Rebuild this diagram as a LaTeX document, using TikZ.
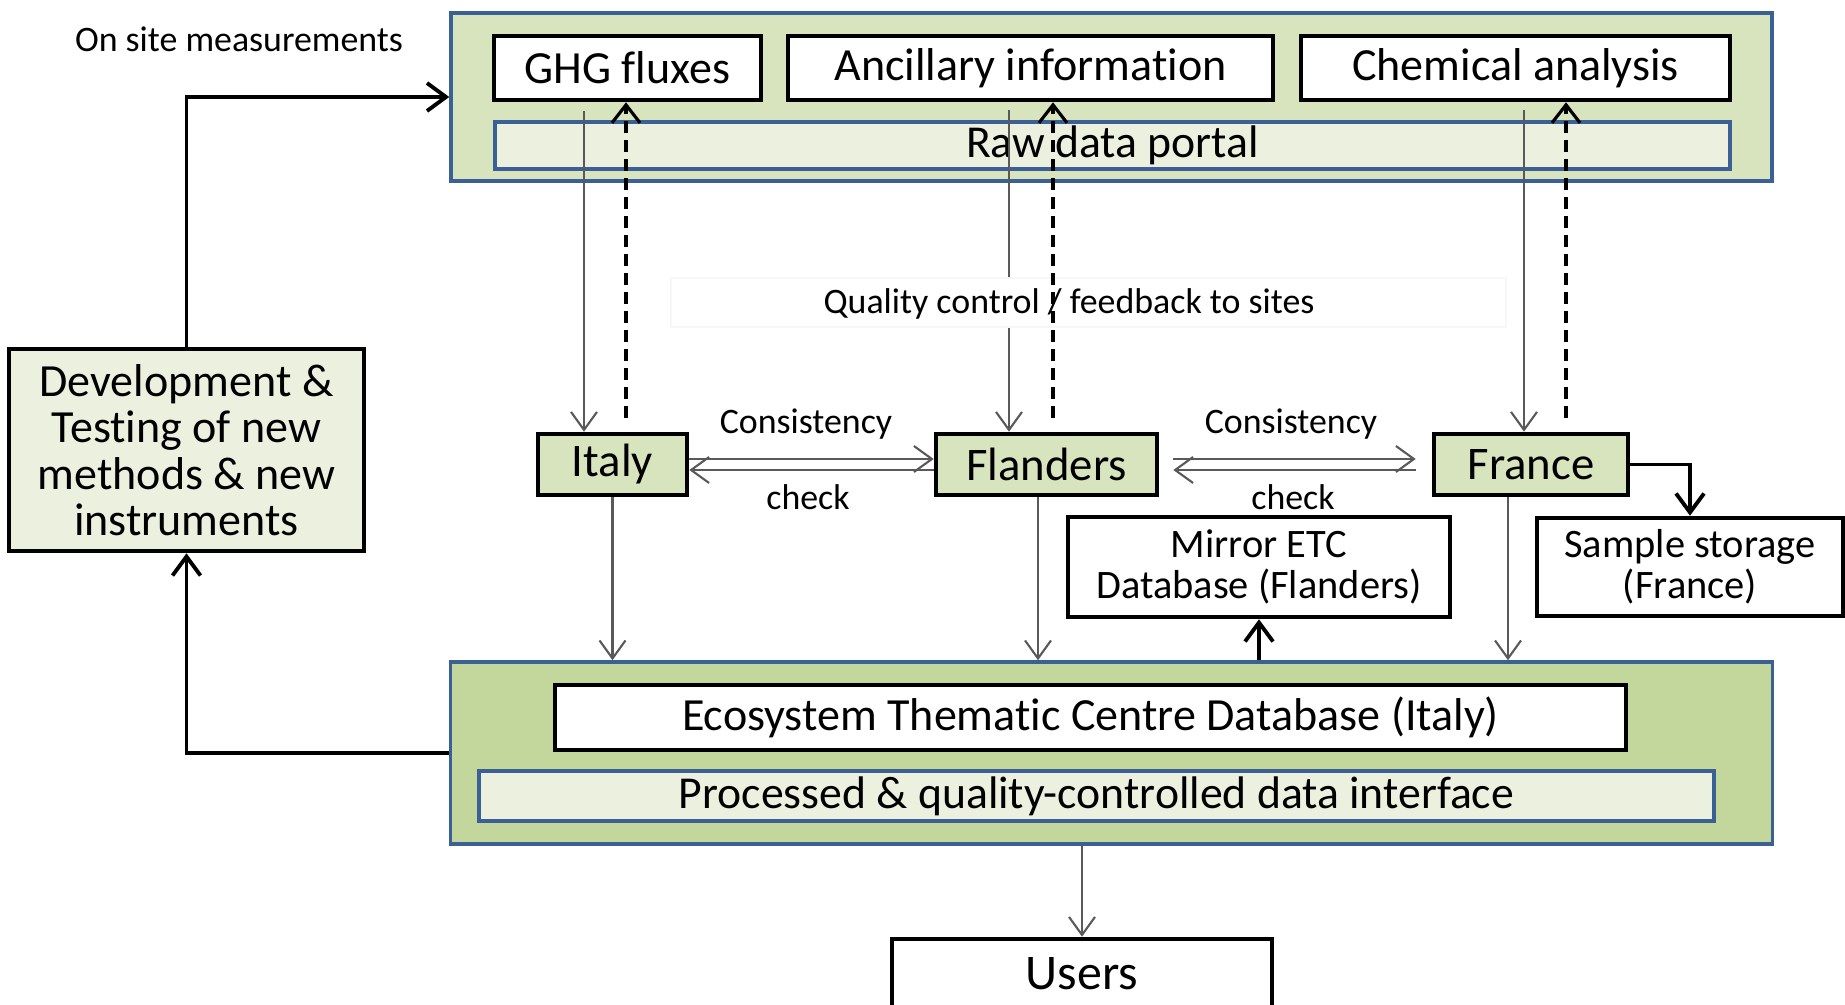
\documentclass[tikz,border=0pt]{standalone}
\usepackage{fontspec}
\setmainfont[RawFeature=-liga]{Carlito}
\usetikzlibrary{arrows.meta}

\definecolor{panelgreen}{HTML}{D7E4BD}
\definecolor{basegreen}{HTML}{C3D69B}
\definecolor{palegreen}{HTML}{EBF1DE}
\definecolor{frameblue}{HTML}{3B6095}
\definecolor{linegray}{HTML}{595959}

\tikzset{
  panel/.style={draw=frameblue, line width=1pt, inner sep=0pt},
  bar/.style={draw=frameblue, line width=1pt, fill=palegreen, inner sep=0pt, font=\fontsize{13}{15}\selectfont},
  whitebox/.style={draw, line width=1.3pt, fill=white, inner sep=0pt, font=\fontsize{13.1}{15}\selectfont},
  country/.style={draw, line width=1.3pt, fill=panelgreen, inner sep=0pt, minimum height=0.61cm, font=\fontsize{13.3}{15}\selectfont},
  note/.style={inner sep=0pt, font=\fontsize{10.2}{12}\selectfont},
  feed/.style={draw=linegray, line width=0.6pt, -{Straight Barb[length=1.8mm,width=2.6mm]}},
  fb/.style={line width=0.9pt, dash pattern=on 3.4pt off 2pt, -{Straight Barb[length=1.8mm,width=2.8mm]}},
  thickarrow/.style={line width=1.1pt, -{Straight Barb[length=1.9mm,width=2.8mm]}},
}

\begin{document}
\begin{tikzpicture}
\path[use as bounding box] (0,0) rectangle (18.45,10.04);
% site level
\node[panel, fill=panelgreen, minimum width=13.21cm, minimum height=1.68cm] (sites) at (11.115, 9.07) {};
\node[whitebox, minimum width=2.67cm, minimum height=0.64cm] (ghg) at (6.275, 9.36) {GHG fluxes};
\node[whitebox, minimum width=4.85cm, minimum height=0.64cm] (ancillary) at (10.305, 9.36) {Ancillary information};
\node[whitebox, minimum width=4.29cm, minimum height=0.64cm] (chemical) at (15.155, 9.36) {Chemical analysis};
\node[bar, minimum width=12.35cm, minimum height=0.47cm] (portal) at (11.125, 8.585) {Raw data portal};
\node[note] (onsite) at (2.39, 9.65) {On site measurements};
% ETC level
\node[panel, fill=basegreen, minimum width=13.22cm, minimum height=1.82cm] (etc) at (11.115, 2.51) {};
\node[whitebox, minimum width=10.71cm, minimum height=0.65cm] (etcdb) at (10.905, 2.865) {Ecosystem Thematic Centre Database (Italy)};
\node[bar, minimum width=12.35cm, minimum height=0.5cm] (processed) at (10.965, 2.08) {Processed \& quality-controlled data interface};
\node[whitebox, minimum width=3.8cm, minimum height=0.7cm, font=\fontsize{14.2}{16}\selectfont] (users) at (10.82, 0.30) {Users};
\node[whitebox, fill=palegreen, minimum width=3.55cm, minimum height=2.02cm, align=center, font=\fontsize{13.1}{13.2}\selectfont] (dev) at (1.865, 5.54) {Development \&\\Testing of new\\methods \& new\\instruments};
% country nodes
\node[country, minimum width=1.49cm] (italy) at (6.125, 5.395) {Italy};
\node[country, minimum width=2.21cm] (flanders) at (10.465, 5.395) {Flanders};
\node[country, minimum width=1.94cm] (france) at (15.31, 5.395) {France};
\node[whitebox, minimum width=3.82cm, minimum height=1.0cm, align=center, font=\fontsize{11.5}{11.7}\selectfont] (mirror) at (12.59, 4.37) {Mirror ETC\\Database (Flanders)};
\node[whitebox, minimum width=3.06cm, minimum height=0.98cm, align=center, font=\fontsize{11.5}{11.7}\selectfont] (sample) at (16.9, 4.37) {Sample storage\\(France)};
\node[note] (cons1) at (8.06, 5.80) {Consistency};
\node[note] (check1) at (8.08, 5.07) {check};
\node[note] (cons2) at (12.91, 5.80) {Consistency};
\node[note] (check2) at (12.93, 5.07) {check};
% raw data down to the countries
\draw[feed] ([xshift=-2.85mm,yshift=-0.9mm]italy.north |- ghg.south) -- ([xshift=-2.85mm]italy.north);
\draw[feed] ([xshift=-3.75mm,yshift=-0.8mm]flanders.north |- ancillary.south) -- ([xshift=-3.75mm]flanders.north);
\draw[feed] ([xshift=-0.7mm,yshift=-0.8mm]france.north |- chemical.south) -- ([xshift=-0.7mm]france.north);
\node[draw=black!3, fill=white, minimum width=8.35cm, minimum height=0.49cm, inner sep=0pt] (qcbox) at (10.885, 7.015) {};
\node[note] (qc) at (10.69, 7.00) {Quality control / feedback to sites};
% feedback up to the sites
\draw[fb] ([xshift=1.35mm,yshift=1.4mm]italy.north) -- ([xshift=1.35mm]italy.north |- ghg.south);
\draw[fb] ([xshift=0.65mm,yshift=1.4mm]flanders.north) -- ([xshift=0.65mm]flanders.north |- ancillary.south);
\draw[fb] ([xshift=3.5mm,yshift=1.4mm]france.north) -- ([xshift=3.5mm]france.north |- chemical.south);
% consistency checks
\draw[feed] ([yshift=0.55mm]italy.east) -- ([yshift=0.55mm]flanders.west);
\draw[feed] ([yshift=-0.55mm]flanders.west) -- ([yshift=-0.55mm]italy.east);
\draw[feed] ([xshift=1.4mm,yshift=0.55mm]flanders.east) -- ([xshift=-1.6mm,yshift=0.55mm]france.west);
\draw[feed] ([xshift=-1.6mm,yshift=-0.55mm]france.west) -- ([xshift=1.4mm,yshift=-0.55mm]flanders.east);
% countries to ETC
\draw[feed] (italy.south) -- (italy.south |- etc.north);
\draw[feed] ([xshift=-0.85mm]flanders.south) -- ([xshift=-0.85mm]flanders.south |- etc.north);
\draw[feed] ([xshift=-2.3mm]france.south) -- ([xshift=-2.3mm]france.south |- etc.north);
\draw[thickarrow] (mirror.south |- etc.north) -- (mirror.south);
\draw[thickarrow] (france.east) -| (sample.north);
% loop through development
\draw[thickarrow] (dev.north) |- (sites.west);
\draw[thickarrow] (etc.west) -| (dev.south);
\draw[feed] (users.north |- etc.south) -- (users.north);
\end{tikzpicture}
\end{document}
